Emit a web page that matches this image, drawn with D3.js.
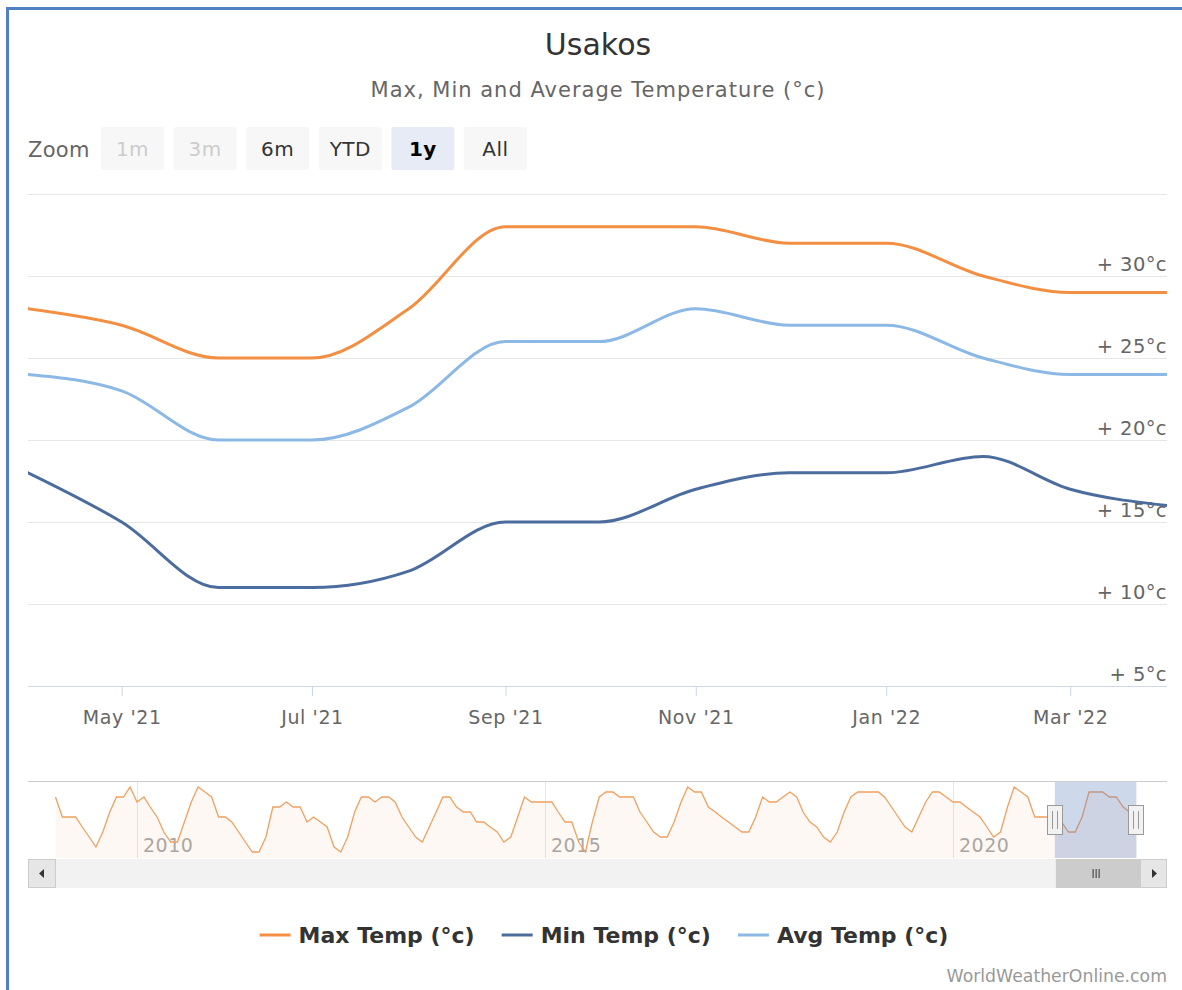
<!DOCTYPE html>
<html><head><meta charset="utf-8">
<script src="https://cdn.jsdelivr.net/npm/d3@7"></script>
<style>
html,body{margin:0;padding:0;background:#fff;}
svg{display:block;font-family:"DejaVu Sans",sans-serif;}
</style></head><body>
<svg id="chart" width="1182" height="990"></svg>
<script>
// ---------------- DATA ----------------
const months = ["2021-04-01","2021-05-01","2021-06-01","2021-07-01","2021-08-01","2021-09-01",
  "2021-10-01","2021-11-01","2021-12-01","2022-01-01","2022-02-01","2022-03-01","2022-04-01"];
const maxTemp = [28,27,25,25,28,33,33,33,32,32,30,29,29];
const minTemp = [18,15,11,11,12,15,15,17,18,18,19,17,16];
const avgTemp = [24,23,20,20,22,26,26,28,27,27,25,24,24];
const seriesNames = ["Max Temp (°c)","Min Temp (°c)","Avg Temp (°c)"];
const seriesColors = ["#f28f43","#4b6c9d","#8cb8e6"];
const yTicks = [5,10,15,20,25,30,35];
const yTickLabels = ["+ 5°c","+ 10°c","+ 15°c","+ 20°c","+ 25°c","+ 30°c",""];
const xTickDates = ["2021-05-01","2021-07-01","2021-09-01","2021-11-01","2022-01-01","2022-03-01"];
const xTickLabels = ["May '21","Jul '21","Sep '21","Nov '21","Jan '22","Mar '22"];
const xDomain = ["2021-04-01","2022-04-01"];
const yDomain = [5,35];

// navigator (monthly max temp, Jan 2009 .. Apr 2022)
const navStart = "2009-01-01";
const navMax = [
  32,28,28,28,26,24,22,25,29,32,32,34,
  31,32,30,28,25,23,23,27,31,34,33,32,
  28,28,27,25,23,21,21,24,30,30,31,30,
  30,27,28,27,26,22,21,24,29,32,32,31,
  32,32,31,28,26,24,23,26,29,32,32,30,
  29,29,27,27,26,25,23,24,28,32,31,31,
  31,31,29,27,27,23,21,27,32,33,33,32,
  32,32,29,27,25,24,24,27,31,34,33,33,
  30,29,28,27,26,25,25,28,32,31,31,32,
  33,32,29,27,26,24,23,25,29,32,33,33,
  33,33,32,30,28,26,25,28,31,33,33,32,
  31,31,30,29,28,26,24,25,30,34,33,32,
  28,28,28,28,27,25,25,28,33,33,33,32,
  32,30,29,29];
const navDomain = ["2008-08-31","2022-08-16"];
const navYDomain = [19.8,35.2];
const navYears = ["2010","2015","2020"];
const zoomButtons = ["1m","3m","6m","YTD","1y","All"];
const zoomState = ["disabled","disabled","normal","normal","selected","normal"];
const titleText = "Usakos";
const subtitleText = "Max, Min and Average Temperature (°c)";
const creditText = "WorldWeatherOnline.com";

// ---------------- LAYOUT ----------------
const svg = d3.select("#chart");
const P = {left:28, right:1167, top:194, bottom:686};
const parse = d3.utcParse("%Y-%m-%d");

// frame
svg.append("line").attr("x1",7.5).attr("x2",7.5).attr("y1",7).attr("y2",990).attr("stroke","#4f81c2").attr("stroke-width",3);
svg.append("line").attr("x1",6).attr("x2",1182).attr("y1",8.5).attr("y2",8.5).attr("stroke","#4f81c2").attr("stroke-width",3);

// title
svg.append("text").attr("x",598).attr("y",55).attr("text-anchor","middle")
  .attr("font-size",30).attr("fill","#333").text(titleText);
svg.append("text").attr("x",598).attr("y",97).attr("text-anchor","middle")
  .attr("font-size",21).attr("letter-spacing",1).attr("fill","#666").text(subtitleText);

// range selector
svg.append("text").attr("x",28).attr("y",157).attr("font-size",21).attr("letter-spacing",0.3).attr("fill","#666").text("Zoom");
const btn = svg.append("g").selectAll("g").data(zoomButtons).join("g")
  .attr("transform",(d,i)=>`translate(${101+i*72.6},127)`);
btn.append("rect").attr("width",63).attr("height",43).attr("rx",2)
  .attr("fill",(d,i)=>zoomState[i]==="selected"?"#e6ebf5":"#f7f7f7");
btn.append("text").attr("x",31.5).attr("y",29).attr("text-anchor","middle").attr("font-size",20)
  .attr("letter-spacing",0.5)
  .attr("font-weight",(d,i)=>zoomState[i]==="selected"?"bold":"normal")
  .attr("fill",(d,i)=>zoomState[i]==="disabled"?"#cccccc":(zoomState[i]==="selected"?"#000":"#333"))
  .text(d=>d);

// scales
const x = d3.scaleUtc().domain(xDomain.map(parse)).range([P.left,P.right]);
const y = d3.scaleLinear().domain(yDomain).range([P.bottom,P.top]);

// grid
const grid = svg.append("g");
grid.selectAll("line").data(yTicks).join("line")
  .attr("x1",P.left).attr("x2",P.right)
  .attr("y1",d=>Math.round(y(d))+0.5).attr("y2",d=>Math.round(y(d))+0.5)
  .attr("stroke",(d,i)=>i===0?"#cfd6e4":"#e6e6e6").attr("stroke-width",1);
// y labels (right, above gridlines)
svg.append("g").selectAll("text").data(yTicks).join("text")
  .attr("x",P.right).attr("y",d=>y(d)-5).attr("text-anchor","end")
  .attr("font-size",19.5).attr("letter-spacing",0.4).attr("fill","#666")
  .text((d,i)=>yTickLabels[i]);

// x axis
const xAxis = d3.axisBottom(x).tickValues(xTickDates.map(parse))
  .tickFormat((d,i)=>xTickLabels[i]).tickSize(10).tickSizeOuter(0);
const gx = svg.append("g").attr("transform",`translate(0,${P.bottom})`).call(xAxis);
gx.select(".domain").remove();
gx.selectAll(".tick line").attr("stroke","#ccd6eb");
gx.selectAll(".tick text").attr("font-size",19).attr("letter-spacing",0.6).attr("fill","#666")
  .attr("font-family","DejaVu Sans").attr("dy",0).attr("y",38);

// lines
svg.append("defs").append("clipPath").attr("id","clip").append("rect")
  .attr("x",P.left).attr("y",P.top-10).attr("width",P.right-P.left).attr("height",P.bottom-P.top+20);
const dates = months.map(parse);
const line = d3.line().x((d,i)=>x(dates[i])).y(d=>y(d)).curve(d3.curveMonotoneX);
const seriesData = [maxTemp,minTemp,avgTemp];
const gl = svg.append("g").attr("clip-path","url(#clip)");
[2,1,0].forEach(k=>{
  gl.append("path").datum(seriesData[k]).attr("d",line).attr("fill","none")
    .attr("stroke",seriesColors[k]).attr("stroke-width",3).attr("stroke-linejoin","round").attr("stroke-linecap","round");
});

// ---------------- NAVIGATOR ----------------
const N = {top:781, bottom:858};
const nx = d3.scaleUtc().domain(navDomain.map(parse)).range([P.left,P.right]);
const ny = d3.scaleLinear().domain(navYDomain).range([N.bottom,N.top]);
const navDates = d3.utcMonth.range(parse(navStart), d3.utcMonth.offset(parse(navStart), navMax.length));
const ng = svg.append("g");
ng.selectAll("line").data(navYears).join("line")
  .attr("x1",d=>Math.round(nx(parse(d+"-01-01")))+0.5).attr("x2",d=>Math.round(nx(parse(d+"-01-01")))+0.5)
  .attr("y1",N.top).attr("y2",N.bottom).attr("stroke","#e6e6e6");
const navArea = d3.area().x((d,i)=>nx(navDates[i])).y0(N.bottom).y1(d=>ny(d));
const navLine = d3.line().x((d,i)=>nx(navDates[i])).y(d=>ny(d));
svg.append("path").datum(navMax).attr("d",navArea).attr("fill","#f28f43").attr("fill-opacity",0.06);
svg.append("path").datum(navMax).attr("d",navLine).attr("fill","none").attr("stroke","#f0a060").attr("stroke-width",1.3);
ng.selectAll("text").data(navYears).join("text")
  .attr("x",d=>nx(parse(d+"-01-01"))+6).attr("y",852).attr("font-size",19).attr("letter-spacing",0.5).attr("fill","#a8a8a8").text(d=>d);
const m0 = nx(parse(xDomain[0])), m1 = nx(parse(xDomain[1]));
svg.append("rect").attr("x",m0).attr("y",N.top).attr("width",m1-m0).attr("height",N.bottom-N.top)
  .attr("fill","rgba(102,133,194,0.32)");
svg.append("line").attr("x1",P.left).attr("x2",P.right).attr("y1",N.top+0.5).attr("y2",N.top+0.5).attr("stroke","#cccccc");
[m0,m1].forEach(hx=>{
  const g = svg.append("g").attr("transform",`translate(${Math.round(hx)},805)`);
  g.append("rect").attr("x",-7.5).attr("y",0.5).attr("width",15).attr("height",29).attr("fill","#f2f2f2").attr("stroke","#999");
  g.append("line").attr("x1",-2.5).attr("x2",-2.5).attr("y1",6).attr("y2",24).attr("stroke","#999");
  g.append("line").attr("x1",2.5).attr("x2",2.5).attr("y1",6).attr("y2",24).attr("stroke","#999");
});
const S = {top:859, h:29};
svg.append("rect").attr("x",P.left).attr("y",S.top).attr("width",P.right-P.left).attr("height",S.h).attr("fill","#f2f2f2");
svg.append("rect").attr("x",P.left+0.5).attr("y",S.top+0.5).attr("width",27).attr("height",S.h-1).attr("fill","#e6e6e6").attr("stroke","#cccccc");
svg.append("path").attr("d",`M${P.left+16},${S.top+10} L${P.left+11},${S.top+14.5} L${P.left+16},${S.top+19} Z`).attr("fill","#333");
svg.append("rect").attr("x",m0+1).attr("y",S.top).attr("width",m1-m0+3).attr("height",S.h).attr("fill","#cccccc");
[-3,0,3].forEach(o=>svg.append("line").attr("x1",(m0+m1)/2+o+0.5).attr("x2",(m0+m1)/2+o+0.5)
  .attr("y1",S.top+10).attr("y2",S.top+19).attr("stroke","#333"));
svg.append("rect").attr("x",P.right-26.5).attr("y",S.top+0.5).attr("width",26).attr("height",S.h-1).attr("fill","#e6e6e6").attr("stroke","#cccccc");
svg.append("path").attr("d",`M${P.right-15},${S.top+10} L${P.right-10},${S.top+14.5} L${P.right-15},${S.top+19} Z`).attr("fill","#333");

// ---------------- LEGEND ----------------
const lg = svg.append("g");
let cx = 0;
const items = seriesNames.map((n,i)=>{
  const g = lg.append("g");
  g.append("line").attr("x1",0).attr("x2",31).attr("y1",0).attr("y2",0).attr("stroke",seriesColors[i]).attr("stroke-width",3);
  const t = g.append("text").attr("x",39).attr("y",7.5).attr("font-size",22).attr("font-weight","bold").attr("fill","#333").text(n);
  const w = 39 + t.node().getComputedTextLength();
  const res = {g, x:cx, w};
  cx += w + 27;
  return res;
});
const totalW = cx - 27;
const lx0 = 604 - totalW/2;
items.forEach(it=>it.g.attr("transform",`translate(${lx0+it.x},935)`));

// credits
svg.append("text").attr("x",1167).attr("y",982).attr("text-anchor","end").attr("font-size",17.3).attr("fill","#999").text(creditText);
</script>
</body></html>
